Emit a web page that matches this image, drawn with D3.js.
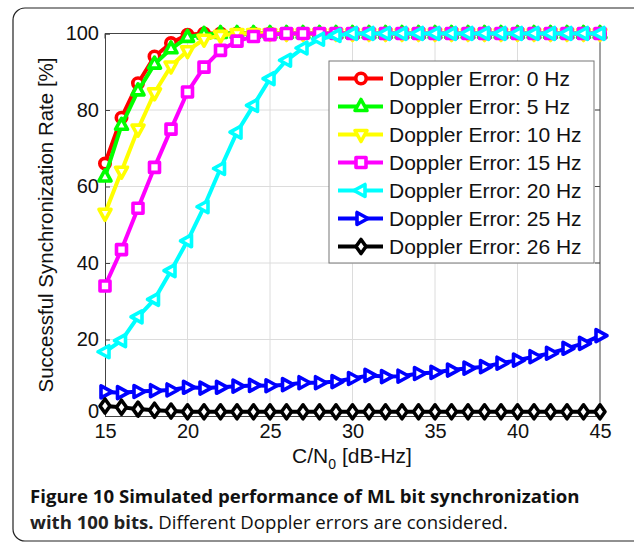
<!DOCTYPE html>
<html>
<head>
<meta charset="utf-8">
<script src="https://cdn.jsdelivr.net/npm/d3@7"></script>
<style>
  body { margin: 0; background: #fff; }
  svg text { font-family: "Liberation Sans", Arial, sans-serif; fill: #111; }
  .cap { font-family: "Open Sans", sans-serif; }
</style>
</head>
<body>
<div id="chart"></div>
<script>
// C/N0 values
const cn0 = d3.range(15, 46);

// success rate [%] per Doppler error
const err0 = [66, 78, 87, 94, 97.5, 99.7, 100, 100, 100, 100, 100, 100, 100, 100, 100, 100,
  100, 100, 100, 100, 100, 100, 100, 100, 100, 100, 100, 100, 100, 100, 100];
const err5 = [62.5, 76, 85, 92, 96, 99, 99.8, 100, 100, 100, 100, 100, 100, 100, 100, 100,
  100, 100, 100, 100, 100, 100, 100, 100, 100, 100, 100, 100, 100, 100, 100];
const err10 = [53, 64, 75, 84.5, 91.5, 95.5, 98.5, 99.5, 100, 100, 100, 100, 100, 100, 100, 100,
  100, 100, 100, 100, 100, 100, 100, 100, 100, 100, 100, 100, 100, 100, 100];
const err15 = [34, 43.5, 54.3, 65, 75, 84.7, 91.2, 95.6, 98, 99.2, 99.7, 100, 100, 100, 100, 100,
  100, 100, 100, 100, 100, 100, 100, 100, 100, 100, 100, 100, 100, 100, 100];
const err20 = [16.8, 19.7, 25.9, 30.5, 38, 45.8, 54.7, 64.7, 74.2, 81.2, 88.2, 93, 96.2, 98.5, 99.5, 100,
  100, 100, 100, 100, 100, 100, 100, 100, 100, 100, 100, 100, 100, 100, 100];
const err25 = [6.3, 6.1, 6.4, 6.6, 6.8, 7.5, 7.3, 7.5, 7.8, 8.0, 7.9, 8.2, 8.7, 8.7, 9.0, 9.8,
  10.6, 10.3, 10.4, 11.1, 11.4, 12.0, 12.5, 12.9, 13.8, 14.6, 15.5, 16.4, 17.7, 19.0, 21.0];
const err26 = [2.6, 2.3, 1.8, 1.5, 1.3, 1.1, 1.1, 1.1, 1.1, 1.1, 1.1, 1.1, 1.1, 1.1, 1.1, 1.1,
  1.1, 1.1, 1.1, 1.1, 1.1, 1.1, 1.1, 1.1, 1.1, 1.1, 1.1, 1.1, 1.1, 1.1, 1.1];

const labels = ["Doppler Error: 0 Hz", "Doppler Error: 5 Hz", "Doppler Error: 10 Hz",
  "Doppler Error: 15 Hz", "Doppler Error: 20 Hz", "Doppler Error: 25 Hz", "Doppler Error: 26 Hz"];
const colors = ["#ff0000", "#00ff00", "#ffff00", "#ff00ff", "#00ffff", "#0000ff", "#000000"];
const shapes = ["circle", "up", "down", "square", "left", "right", "diamond"];
const values = [err0, err5, err10, err15, err20, err25, err26];

const xTicks = [15, 20, 25, 30, 35, 40, 45];
const yTicks = [0, 20, 40, 60, 80, 100];

const W = 634, H = 544;
const svg = d3.select("#chart").append("svg").attr("width", W).attr("height", H);

// outer frame
svg.append("rect")
  .attr("x", 13).attr("y", 8).attr("width", 634).attr("height", 533)
  .attr("rx", 12).attr("fill", "none").attr("stroke", "#222").attr("stroke-width", 1.2);

const x = d3.scaleLinear().domain([15, 45]).range([105, 600]);
const y = d3.scaleLinear().domain([0, 100]).range([416, 33.5]);

// grid
svg.append("g").selectAll("line").data(xTicks.slice(1, -1)).join("line")
  .attr("x1", d => x(d)).attr("x2", d => x(d)).attr("y1", y(0)).attr("y2", y(100))
  .attr("stroke", "#dcdcdc").attr("stroke-width", 1);
svg.append("g").selectAll("line").data(yTicks.slice(1, -1)).join("line")
  .attr("x1", x(15)).attr("x2", x(45)).attr("y1", d => y(d)).attr("y2", d => y(d))
  .attr("stroke", "#dcdcdc").attr("stroke-width", 1);

// axes
const xAxis = svg.append("g").attr("transform", `translate(0,${y(0)})`)
  .call(d3.axisBottom(x).tickValues(xTicks).tickSize(-5).tickPadding(12));
const yAxis = svg.append("g").attr("transform", `translate(${x(15)},0)`)
  .call(d3.axisLeft(y).tickValues(yTicks).tickSize(-5).tickPadding(6));
[xAxis, yAxis].forEach(a => {
  a.selectAll("path, line").attr("stroke", "#444");
  a.selectAll("text").style("font-size", "20px").attr("fill", "#111");
});
xAxis.selectAll("text").attr("dy", "0.5em");
yAxis.selectAll("text").filter(d => d === 0).attr("dy", "0.05em");
// top and right box lines with inner ticks
svg.append("line").attr("x1", x(15)).attr("x2", x(45)).attr("y1", y(100)).attr("y2", y(100)).attr("stroke", "#444");
svg.append("line").attr("x1", x(45)).attr("x2", x(45)).attr("y1", y(0)).attr("y2", y(100)).attr("stroke", "#444");
svg.append("g").selectAll("line").data(yTicks).join("line")
  .attr("x1", x(45) - 5).attr("x2", x(45)).attr("y1", d => y(d)).attr("y2", d => y(d)).attr("stroke", "#444");
svg.append("g").selectAll("line").data(xTicks).join("line")
  .attr("x1", d => x(d)).attr("x2", d => x(d)).attr("y1", y(100)).attr("y2", y(100) + 5).attr("stroke", "#444");

function marker(shape) {
  switch (shape) {
    case "circle": return d3.symbol(d3.symbolCircle, 85)();
    case "up": return "M0,-7L6,4L-6,4Z";
    case "down": return "M0,7L6,-4L-6,-4Z";
    case "square": return "M-5,-5L5,-5L5,5L-5,5Z";
    case "left": return "M-7,0L4,-6L4,6Z";
    case "right": return "M7,0L-4,-6L-4,6Z";
    case "diamond": return "M0,-7L5,0L0,7L-5,0Z";
  }
}

const line = d3.line().x(d => x(d[0])).y(d => y(d[1]));

values.forEach((vals, i) => {
  const pts = cn0.map((c, j) => [c, vals[j]]);
  const g = svg.append("g");
  g.append("path").datum(pts).attr("d", line)
    .attr("fill", "none").attr("stroke", colors[i]).attr("stroke-width", 4)
    .attr("stroke-linejoin", "round");
  g.selectAll("path.m").data(pts).join("path").attr("class", "m")
    .attr("d", marker(shapes[i]))
    .attr("transform", d => `translate(${x(d[0])},${y(d[1])})`)
    .attr("fill", "#fff").attr("stroke", colors[i]).attr("stroke-width", 3.6)
    .attr("stroke-linejoin", "round");
});

// legend
const lg = svg.append("g");
lg.append("rect").attr("x", 329).attr("y", 61).attr("width", 265).attr("height", 202)
  .attr("fill", "#fff").attr("stroke", "#777").attr("stroke-width", 1);
labels.forEach((lab, i) => {
  const ly = 78.5 + i * 28;
  lg.append("line").attr("x1", 338).attr("x2", 383).attr("y1", ly).attr("y2", ly)
    .attr("stroke", colors[i]).attr("stroke-width", 4);
  lg.append("path").attr("d", marker(shapes[i])).attr("transform", `translate(361,${ly})`)
    .attr("fill", "#fff").attr("stroke", colors[i]).attr("stroke-width", 3.6)
    .attr("stroke-linejoin", "round");
  lg.append("text").attr("x", 389).attr("y", ly).attr("dy", "0.36em")
    .style("font-size", "21px").text(lab);
});

// axis titles
svg.append("text").attr("transform", "translate(53,225) rotate(-90)")
  .attr("text-anchor", "middle").style("font-size", "20.5px")
  .text("Successful Synchronization Rate [%]");
const xt = svg.append("text").attr("x", 352).attr("y", 463).attr("text-anchor", "middle")
  .style("font-size", "21px");
xt.append("tspan").text("C/N");
xt.append("tspan").attr("dy", 6).style("font-size", "14px").text("0");
xt.append("tspan").attr("dy", -6).text(" [dB-Hz]");

// caption
svg.append("text").attr("class", "cap").attr("x", 30).attr("y", 503)
  .style("font-size", "18.6px").style("font-weight", "bold").attr("fill", "#222")
  .text("Figure 10 Simulated performance of ML bit synchronization");
const c2 = svg.append("text").attr("class", "cap").attr("x", 30).attr("y", 529)
  .style("font-size", "18.6px").attr("fill", "#333");
c2.append("tspan").style("font-weight", "bold").attr("fill", "#222").text("with 100 bits.");
c2.append("tspan").text(" Different Doppler errors are considered.");
</script>
</body>
</html>
